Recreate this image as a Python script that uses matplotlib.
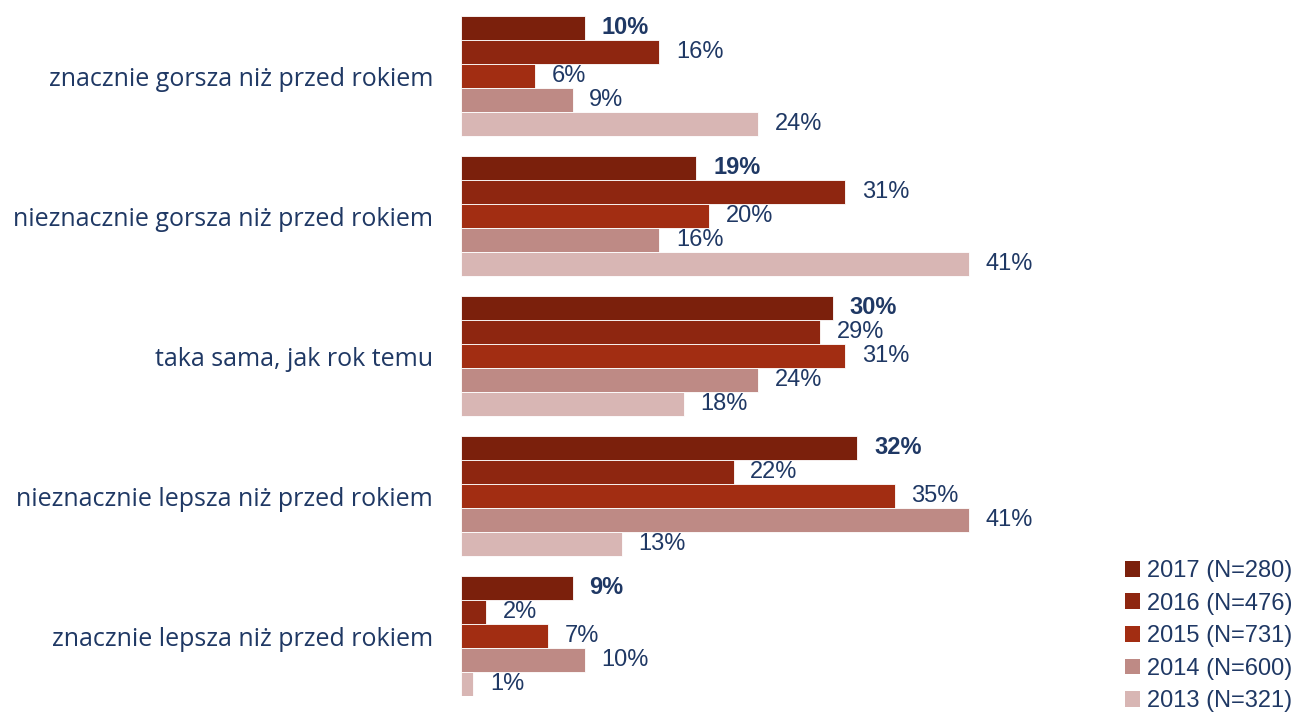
import matplotlib
matplotlib.use("Agg")
import matplotlib.pyplot as plt
from matplotlib.patches import Patch

categories = [
    "znacznie gorsza niż przed rokiem",
    "nieznacznie gorsza niż przed rokiem",
    "taka sama, jak rok temu",
    "nieznacznie lepsza niż przed rokiem",
    "znacznie lepsza niż przed rokiem",
]
series_labels = ["2017 (N=280)", "2016 (N=476)", "2015 (N=731)", "2014 (N=600)", "2013 (N=321)"]
v2017 = [10, 19, 30, 32, 9]
v2016 = [16, 31, 29, 22, 2]
v2015 = [6, 20, 31, 35, 7]
v2014 = [9, 16, 24, 41, 10]
v2013 = [24, 41, 18, 13, 1]
series_values = [v2017, v2016, v2015, v2014, v2013]
colors = ["#7B200C", "#8E2610", "#A22D12", "#BE8A85", "#D8B6B4"]
text_color = "#1F3864"

W, H = 1297, 719
fig = plt.figure(figsize=(W / 100, H / 100), dpi=100)
ax_left, ax_right = 461, 1100
ax_top, ax_bottom = 16, 696
ax = fig.add_axes([ax_left / W, (H - ax_bottom) / H, (ax_right - ax_left) / W, (ax_bottom - ax_top) / H])

bar_h = 24
group_pitch = 140
n_groups = len(categories)
for i, (vals, col) in enumerate(zip(series_values, colors)):
    ys = [g * group_pitch + i * bar_h + bar_h / 2 for g in range(n_groups)]
    ax.barh(ys, vals, height=bar_h, color=col, edgecolor="white", linewidth=0.6)
    for y, v in zip(ys, vals):
        ax.annotate(f"{v}%", xy=(v, y), xytext=(12, 0), textcoords="offset points",
                    va="center", ha="left", fontsize=17, color=text_color,
                    fontweight="bold" if i == 0 else "normal", family="Liberation Sans")

ax.set_xlim(0, (ax_right - ax_left) / 12.39)
ax.set_ylim((n_groups - 1) * group_pitch + 5 * bar_h, 0)
ax.set_yticks([g * group_pitch + 2.5 * bar_h for g in range(n_groups)])
ax.set_yticklabels(categories, fontsize=18, color=text_color, family="Open Sans")
ax.tick_params(axis="y", length=0, pad=20)
ax.set_xticks([])
for s in ax.spines.values():
    s.set_visible(False)

handles = [Patch(facecolor=c, edgecolor="none") for c in colors]
leg = fig.legend(handles, series_labels, loc="upper left", bbox_to_anchor=(1125 / W, 1 - 560 / H),
                 frameon=False, fontsize=17, handlelength=0.65, handleheight=0.65,
                 handletextpad=0.3, labelspacing=0.45, borderaxespad=0, borderpad=0)
for t in leg.get_texts():
    t.set_color(text_color)
    t.set_family("Liberation Sans")

fig.savefig("out.png", dpi=100)
